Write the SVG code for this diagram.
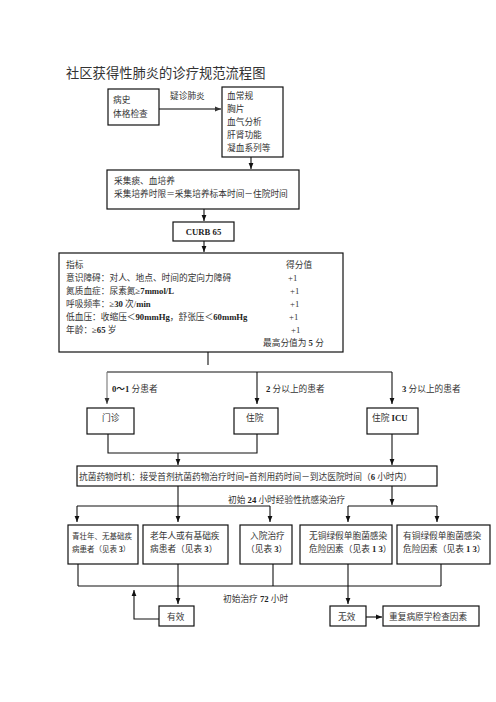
<svg xmlns="http://www.w3.org/2000/svg" width="496" height="702" viewBox="0 0 496 702">
<style>
text{font-family:"Liberation Serif","Noto Sans CJK SC",serif;font-size:8.7px;fill:#333}
.t{font-size:13.3px;fill:#333}
.s{font-size:7.5px}
.b{font-weight:bold;fill:#222}
rect{fill:#fff;stroke:#111;stroke-width:1.2}
.c line,.c polyline{stroke:#111;stroke-width:1.1;fill:none}
.c .g{stroke:#777}
.c .h{stroke:#555;stroke-width:1.6}
</style>
<defs>
<marker id="a" markerUnits="userSpaceOnUse" markerWidth="6" markerHeight="6" viewBox="0 0 6 6" refX="6" refY="3" orient="auto"><path d="M0,0.6L6,3L0,5.4z" fill="#111"/></marker>
<marker id="ag" markerUnits="userSpaceOnUse" markerWidth="6" markerHeight="6" viewBox="0 0 6 6" refX="6" refY="3" orient="auto"><path d="M0,0.6L6,3L0,5.4z" fill="#333"/></marker>
</defs>
<rect x="0" y="0" width="496" height="702" style="fill:#fff;stroke:none"/>
<text class="t" x="66" y="78">社区获得性肺炎的诊疗规范流程图</text>

<g class="c" id="connectors">
<line class="h" x1="159" y1="109" x2="221" y2="109" marker-end="url(#ag)"/>
<line x1="251" y1="157" x2="251" y2="169" marker-end="url(#a)"/>
<line x1="204" y1="209" x2="204" y2="221" marker-end="url(#a)"/>
<line x1="204" y1="241" x2="204" y2="252" marker-end="url(#a)"/>
<line x1="208" y1="352" x2="208" y2="365"/>
<line x1="107" y1="372" x2="392" y2="372"/>
<line class="g" x1="107" y1="372" x2="107" y2="404" marker-end="url(#ag)"/>
<line x1="257" y1="372" x2="257" y2="404" marker-end="url(#a)"/>
<line x1="392" y1="372" x2="392" y2="404" marker-end="url(#a)"/>
<polyline points="108,434 108,453 257,453 257,434"/>
<line x1="178" y1="453" x2="178" y2="465" marker-end="url(#a)"/>
<line x1="392" y1="434" x2="392" y2="465" marker-end="url(#a)"/>
<line x1="178" y1="486" x2="178" y2="522" marker-end="url(#a)"/>
<line x1="77" y1="506" x2="270" y2="506"/>
<line x1="77" y1="506" x2="77" y2="522" marker-end="url(#a)"/>
<line x1="270" y1="506" x2="270" y2="522" marker-end="url(#a)"/>
<line x1="392" y1="486" x2="392" y2="505" marker-end="url(#a)"/>
<line x1="348" y1="506" x2="437" y2="506"/>
<line x1="348" y1="506" x2="348" y2="522" marker-end="url(#a)"/>
<line x1="437" y1="506" x2="437" y2="522" marker-end="url(#a)"/>
<line x1="78" y1="564" x2="78" y2="586"/>
<line x1="178" y1="564" x2="178" y2="586"/>
<line x1="273" y1="564" x2="273" y2="586"/>
<line x1="348" y1="564" x2="348" y2="586"/>
<line x1="441" y1="564" x2="441" y2="586"/>
<line x1="78" y1="586" x2="441" y2="586"/>
<line x1="178" y1="586" x2="178" y2="604" marker-end="url(#a)"/>
<line x1="348" y1="586" x2="348" y2="604" marker-end="url(#a)"/>
<polyline points="159,619 134,619 134,590" marker-end="url(#a)"/>
<line class="h" x1="366" y1="617" x2="382" y2="617" marker-end="url(#a)"/>
<text x="170" y="99">疑诊肺炎</text>
<text x="112" y="392"><tspan class="b">0～1</tspan> 分患者</text>
<text x="266" y="392"><tspan class="b">2</tspan> 分以上的患者</text>
<text x="402" y="392"><tspan class="b">3</tspan> 分以上的患者</text>
<text x="228" y="503">初始 <tspan class="b">24</tspan> 小时经验性抗感染治疗</text>
<text x="223" y="602">初始治疗 <tspan class="b">72</tspan> 小时</text>
</g>

<g id="history">
<rect x="108" y="89" width="51" height="36"/>
<text x="113" y="103">病史</text>
<text x="113" y="117">体格检查</text>
</g>
<g id="exams">
<rect x="222" y="87" width="61" height="70"/>
<text x="227" y="99">血常规</text>
<text x="227" y="112">胸片</text>
<text x="227" y="125">血气分析</text>
<text x="227" y="138">肝肾功能</text>
<text x="227" y="151">凝血系列等</text>
</g>
<g id="culture">
<rect x="107" y="170" width="192" height="39"/>
<text x="114" y="184">采集痰、血培养</text>
<text x="114" y="197">采集培养时限＝采集培养标本时间－住院时间</text>
</g>
<g id="curb">
<rect x="173" y="222" width="61" height="19"/>
<text class="b" x="203.5" y="235" text-anchor="middle">CURB 65</text>
</g>
<g id="score">
<rect x="59" y="253" width="284" height="99"/>
<text x="66" y="268">指标</text>
<text x="286" y="268">得分值</text>
<text x="66" y="281">意识障碍：对人、地点、时间的定向力障碍</text>
<text x="288" y="281">+1</text>
<text x="66" y="294">氮质血症：尿素氮≥<tspan class="b">7mmol/L</tspan></text>
<text x="290" y="294">+1</text>
<text x="66" y="307">呼吸频率：≥<tspan class="b">30</tspan> 次/<tspan class="b">min</tspan></text>
<text x="290" y="307">+1</text>
<text x="66" y="320">低血压：收缩压＜<tspan class="b">90mmHg</tspan>，舒张压＜<tspan class="b">60mmHg</tspan></text>
<text x="289" y="320">+1</text>
<text x="66" y="333">年龄：≥<tspan class="b">65</tspan> 岁</text>
<text x="291" y="333">+1</text>
<text x="263" y="346">最高分值为 <tspan class="b">5</tspan> 分</text>
</g>
<g id="outpatient">
<rect x="87" y="408" width="47" height="26"/>
<text x="102" y="421">门诊</text>
</g>
<g id="inpatient">
<rect x="234" y="408" width="44" height="26"/>
<text x="246" y="421">住院</text>
</g>
<g id="icu">
<rect x="367" y="408" width="51" height="26"/>
<text x="372" y="421">住院 <tspan class="b">ICU</tspan></text>
</g>
<g id="timing">
<rect x="77" y="466" width="360" height="20"/>
<text x="79" y="480">抗菌药物时机：接受首剂抗菌药物治疗时间<tspan class="b">=</tspan>首剂用药时间－到达医院时间（<tspan class="b">6</tspan> 小时内）</text>
</g>
<g id="young">
<rect x="68" y="525" width="70" height="39"/>
<text class="s" x="72" y="539">青壮年、无基础疾</text>
<text class="s" x="72" y="552">病患者（见表 <tspan class="b">3</tspan>）</text>
</g>
<g id="elderly">
<rect x="143" y="525" width="85" height="39"/>
<text x="150" y="539">老年人或有基础疾</text>
<text x="150" y="552">病患者（见表 <tspan class="b">3</tspan>）</text>
</g>
<g id="admit">
<rect x="240" y="525" width="52" height="39"/>
<text x="250" y="539">入院治疗</text>
<text x="246" y="552">（见表 <tspan class="b">3</tspan>）</text>
</g>
<g id="nopseudo">
<rect x="300" y="525" width="92" height="39"/>
<text x="309" y="539">无铜绿假单胞菌感染</text>
<text x="309" y="552">危险因素（见表 <tspan class="b">1 3</tspan>）</text>
</g>
<g id="pseudo">
<rect x="397" y="525" width="93" height="39"/>
<text x="403" y="539">有铜绿假单胞菌感染</text>
<text x="403" y="552">危险因素（见表 <tspan class="b">1 3</tspan>）</text>
</g>
<g id="effective">
<rect x="159" y="606" width="35" height="20"/>
<text x="167" y="620">有效</text>
</g>
<g id="ineffective">
<rect x="330" y="606" width="36" height="20"/>
<text x="338" y="620">无效</text>
</g>
<g id="repeat">
<rect x="383" y="606" width="96" height="20"/>
<text x="389" y="620">重复病原学检查因素</text>
</g>
</svg>
